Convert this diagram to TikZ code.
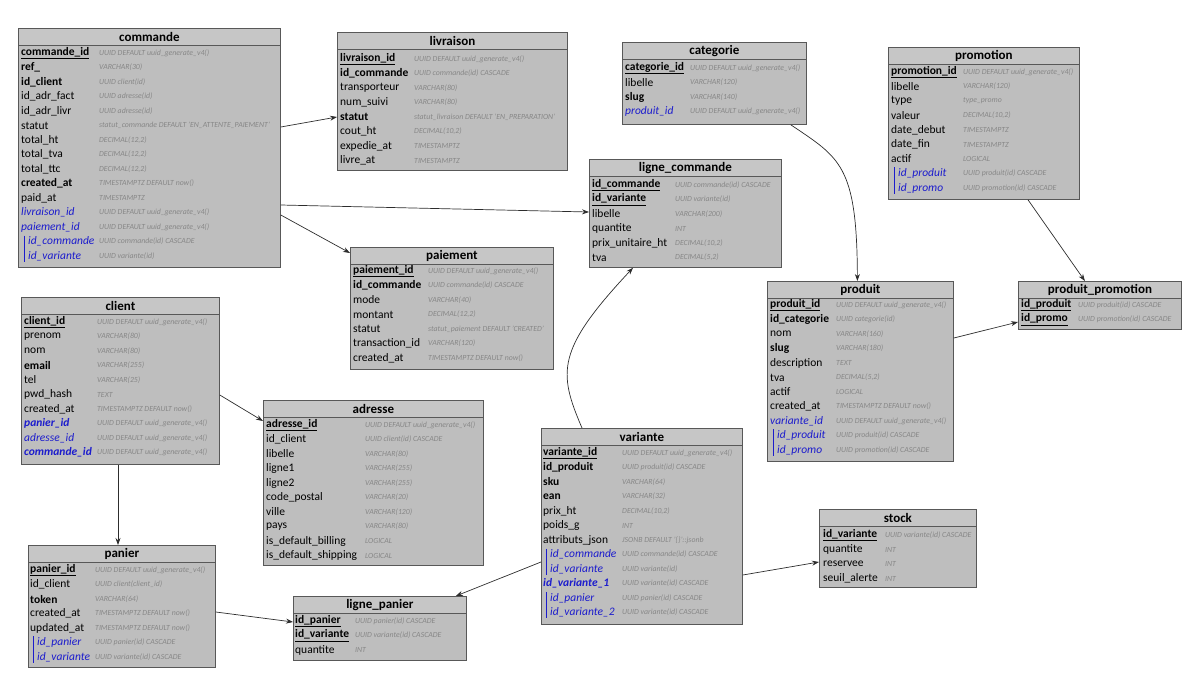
\documentclass[tikz,border=0pt]{standalone}
\usepackage{fontspec}
\setmainfont{Carlito}
\usetikzlibrary{arrows.meta}

\definecolor{tblfill}{RGB}{190,190,190}
\definecolor{tblhead}{RGB}{198,198,198}
\definecolor{tbledge}{RGB}{88,88,88}
\definecolor{fkblue}{RGB}{28,28,205}
\definecolor{typegray}{RGB}{135,135,135}
\definecolor{linkgray}{RGB}{45,45,45}

\tikzset{
  tablebox/.style={draw=tbledge, fill=tblfill, line width=0.8pt, anchor=north west, inner sep=0pt},
  titlebar/.style={draw=tbledge, fill=tblhead, line width=0.8pt, anchor=north west, inner sep=0pt,
                   minimum height=17pt, font=\fontsize{13}{15}\selectfont\bfseries},
  fieldtxt/.style={anchor=west, inner sep=0pt, font=\fontsize{11.5}{13}\selectfont, text=black},
  pkey/.style={fieldtxt, font=\fontsize{11.5}{13}\selectfont\bfseries},
  boldf/.style={fieldtxt, font=\fontsize{11.5}{13}\selectfont\bfseries},
  normf/.style={fieldtxt},
  fkey/.style={fieldtxt, font=\fontsize{11.5}{13}\selectfont\itshape, text=fkblue},
  fkeyb/.style={fieldtxt, font=\fontsize{11.5}{13}\selectfont\bfseries\itshape, text=fkblue},
  compf/.style={fkey, xshift=7pt},
  typetext/.style={anchor=west, inner sep=0pt, font=\fontsize{7.8}{9}\selectfont\itshape, text=typegray},
  compbar/.style={draw=fkblue, line width=1.3pt},
  link/.style={draw=linkgray, line width=0.7pt, -{Stealth[length=7pt,width=5pt]}},
}

% table frame: name, title, left, top, width, height
\newcommand\ertable[6]{%
  \node[tablebox, minimum width=#5pt, minimum height=#6pt] (#1) at (#3,#4) {};
  \node[titlebar, minimum width=#5pt] (#1-head) at (#3,#4) {#2};
  \def\curtbl{#1}%
}
% field row: style, index, field name, type
\newcommand\fld[4]{%
  \node[#1] (\curtbl-f#2) at ({\fx},{\fy+#2*14.5}) {#3};
  \node[typetext] (\curtbl-t#2) at ({\typex},{\fy+#2*14.5}) {#4};
}
\newcommand\pk[1]{\underline{#1}}
% vertical bar grouping a composite key: first row, last row
\newcommand\cbar[2]{%
  \draw[compbar] ([xshift=-3.5pt,yshift=1pt]\curtbl-f#1.north west) -- ([xshift=-3.5pt,yshift=-1pt]\curtbl-f#2.south west);
}

\begin{document}
\begin{tikzpicture}[x=1pt,y=-1pt]
\useasboundingbox (0,0) rectangle (1186,672);

% ---------------- commande
\ertable{commande}{commande}{18}{28}{262}{239}
\def\fx{21}\def\fy{53}\def\typex{99}
\fld{pkey}{0}{\pk{commande\_id}}{UUID DEFAULT uuid\_generate\_v4()}
\fld{boldf}{1}{ref\_}{VARCHAR(30)}
\fld{boldf}{2}{id\_client}{UUID client(id)}
\fld{normf}{3}{id\_adr\_fact}{UUID adresse(id)}
\fld{normf}{4}{id\_adr\_livr}{UUID adresse(id)}
\fld{normf}{5}{statut}{statut\_commande DEFAULT 'EN\_ATTENTE\_PAIEMENT'}
\fld{normf}{6}{total\_ht}{DECIMAL(12,2)}
\fld{normf}{7}{total\_tva}{DECIMAL(12,2)}
\fld{normf}{8}{total\_ttc}{DECIMAL(12,2)}
\fld{boldf}{9}{created\_at}{TIMESTAMPTZ DEFAULT now()}
\fld{normf}{10}{paid\_at}{TIMESTAMPTZ}
\fld{fkey}{11}{livraison\_id}{UUID DEFAULT uuid\_generate\_v4()}
\fld{fkey}{12}{paiement\_id}{UUID DEFAULT uuid\_generate\_v4()}
\fld{compf}{13}{id\_commande}{UUID commande(id) CASCADE}
\fld{compf}{14}{id\_variante}{UUID variante(id)}
\cbar{13}{14}

% ---------------- livraison
\ertable{livraison}{livraison}{337}{32}{230}{138}
\def\fx{340}\def\fy{59}\def\typex{414}
\fld{pkey}{0}{\pk{livraison\_id}}{UUID DEFAULT uuid\_generate\_v4()}
\fld{boldf}{1}{id\_commande}{UUID commande(id) CASCADE}
\fld{normf}{2}{transporteur}{VARCHAR(80)}
\fld{normf}{3}{num\_suivi}{VARCHAR(80)}
\fld{boldf}{4}{statut}{statut\_livraison DEFAULT 'EN\_PREPARATION'}
\fld{normf}{5}{cout\_ht}{DECIMAL(10,2)}
\fld{normf}{6}{expedie\_at}{TIMESTAMPTZ}
\fld{normf}{7}{livre\_at}{TIMESTAMPTZ}

% ---------------- categorie
\ertable{categorie}{categorie}{622}{42}{184}{82}
\def\fx{625}\def\fy{68}\def\typex{690}
\fld{pkey}{0}{\pk{categorie\_id}}{UUID DEFAULT uuid\_generate\_v4()}
\fld{normf}{1}{libelle}{VARCHAR(120)}
\fld{boldf}{2}{slug}{VARCHAR(140)}
\fld{fkey}{3}{produit\_id}{UUID DEFAULT uuid\_generate\_v4()}

% ---------------- ligne_commande
\ertable{lignecommande}{ligne\_commande}{589}{159}{192}{108}
\def\fx{592}\def\fy{185}\def\typex{675}
\fld{pkey}{0}{\pk{id\_commande}}{UUID commande(id) CASCADE}
\fld{pkey}{1}{\pk{id\_variante}}{UUID variante(id)}
\fld{normf}{2}{libelle}{VARCHAR(200)}
\fld{normf}{3}{quantite}{INT}
\fld{normf}{4}{prix\_unitaire\_ht}{DECIMAL(10,2)}
\fld{normf}{5}{tva}{DECIMAL(5,2)}

% ---------------- promotion
\ertable{promotion}{promotion}{888}{47}{191}{152}
\def\fx{891}\def\fy{72}\def\typex{963}
\fld{pkey}{0}{\pk{promotion\_id}}{UUID DEFAULT uuid\_generate\_v4()}
\fld{normf}{1}{libelle}{VARCHAR(120)}
\fld{normf}{2}{type}{type\_promo}
\fld{normf}{3}{valeur}{DECIMAL(10,2)}
\fld{normf}{4}{date\_debut}{TIMESTAMPTZ}
\fld{normf}{5}{date\_fin}{TIMESTAMPTZ}
\fld{normf}{6}{actif}{LOGICAL}
\fld{compf}{7}{id\_produit}{UUID produit(id) CASCADE}
\fld{compf}{8}{id\_promo}{UUID promotion(id) CASCADE}
\cbar{7}{8}

% ---------------- paiement
\ertable{paiement}{paiement}{350}{247}{203}{122}
\def\fx{353}\def\fy{271}\def\typex{428}
\fld{pkey}{0}{\pk{paiement\_id}}{UUID DEFAULT uuid\_generate\_v4()}
\fld{boldf}{1}{id\_commande}{UUID commande(id) CASCADE}
\fld{normf}{2}{mode}{VARCHAR(40)}
\fld{normf}{3}{montant}{DECIMAL(12,2)}
\fld{normf}{4}{statut}{statut\_paiement DEFAULT 'CREATED'}
\fld{normf}{5}{transaction\_id}{VARCHAR(120)}
\fld{normf}{6}{created\_at}{TIMESTAMPTZ DEFAULT now()}

% ---------------- client
\ertable{client}{client}{21}{297}{198}{167}
\def\fx{24}\def\fy{322}\def\typex{97}
\fld{pkey}{0}{\pk{client\_id}}{UUID DEFAULT uuid\_generate\_v4()}
\fld{normf}{1}{prenom}{VARCHAR(80)}
\fld{normf}{2}{nom}{VARCHAR(80)}
\fld{boldf}{3}{email}{VARCHAR(255)}
\fld{normf}{4}{tel}{VARCHAR(25)}
\fld{normf}{5}{pwd\_hash}{TEXT}
\fld{normf}{6}{created\_at}{TIMESTAMPTZ DEFAULT now()}
\fld{fkeyb}{7}{panier\_id}{UUID DEFAULT uuid\_generate\_v4()}
\fld{fkey}{8}{adresse\_id}{UUID DEFAULT uuid\_generate\_v4()}
\fld{fkeyb}{9}{commande\_id}{UUID DEFAULT uuid\_generate\_v4()}

% ---------------- adresse
\ertable{adresse}{adresse}{263}{400}{220}{165}
\def\fx{266}\def\fy{425}\def\typex{365}
\fld{pkey}{0}{\pk{adresse\_id}}{UUID DEFAULT uuid\_generate\_v4()}
\fld{normf}{1}{id\_client}{UUID client(id) CASCADE}
\fld{normf}{2}{libelle}{VARCHAR(80)}
\fld{normf}{3}{ligne1}{VARCHAR(255)}
\fld{normf}{4}{ligne2}{VARCHAR(255)}
\fld{normf}{5}{code\_postal}{VARCHAR(20)}
\fld{normf}{6}{ville}{VARCHAR(120)}
\fld{normf}{7}{pays}{VARCHAR(80)}
\fld{normf}{8}{is\_default\_billing}{LOGICAL}
\fld{normf}{9}{is\_default\_shipping}{LOGICAL}

% ---------------- variante
\ertable{variante}{variante}{541}{428}{201}{196}
\def\fx{543}\def\fy{453}\def\typex{622}
\fld{pkey}{0}{\pk{variante\_id}}{UUID DEFAULT uuid\_generate\_v4()}
\fld{boldf}{1}{id\_produit}{UUID produit(id) CASCADE}
\fld{boldf}{2}{sku}{VARCHAR(64)}
\fld{boldf}{3}{ean}{VARCHAR(32)}
\fld{normf}{4}{prix\_ht}{DECIMAL(10,2)}
\fld{normf}{5}{poids\_g}{INT}
\fld{normf}{6}{attributs\_json}{JSONB DEFAULT '\{\}'::jsonb}
\fld{compf}{7}{id\_commande}{UUID commande(id) CASCADE}
\fld{compf}{8}{id\_variante}{UUID variante(id)}
\fld{fkeyb}{9}{id\_variante\_1}{UUID variante(id) CASCADE}
\fld{compf}{10}{id\_panier}{UUID panier(id) CASCADE}
\fld{compf}{11}{id\_variante\_2}{UUID variante(id) CASCADE}
\cbar{7}{8}
\cbar{10}{11}

% ---------------- produit
\ertable{produit}{produit}{767}{281}{186}{180}
\def\fx{770}\def\fy{305}\def\typex{836}
\fld{pkey}{0}{\pk{produit\_id}}{UUID DEFAULT uuid\_generate\_v4()}
\fld{boldf}{1}{id\_categorie}{UUID categorie(id)}
\fld{normf}{2}{nom}{VARCHAR(160)}
\fld{boldf}{3}{slug}{VARCHAR(180)}
\fld{normf}{4}{description}{TEXT}
\fld{normf}{5}{tva}{DECIMAL(5,2)}
\fld{normf}{6}{actif}{LOGICAL}
\fld{normf}{7}{created\_at}{TIMESTAMPTZ DEFAULT now()}
\fld{fkey}{8}{variante\_id}{UUID DEFAULT uuid\_generate\_v4()}
\fld{compf}{9}{id\_produit}{UUID produit(id) CASCADE}
\fld{compf}{10}{id\_promo}{UUID promotion(id) CASCADE}
\cbar{9}{10}

% ---------------- produit_promotion
\ertable{produitpromo}{produit\_promotion}{1018}{281}{163}{48}
\def\fx{1021}\def\fy{305}\def\typex{1078}
\fld{pkey}{0}{\pk{id\_produit}}{UUID produit(id) CASCADE}
\fld{pkey}{1}{\pk{id\_promo}}{UUID promotion(id) CASCADE}

% ---------------- stock
\ertable{stock}{stock}{819}{509}{157}{78}
\def\fx{823}\def\fy{535}\def\typex{885}
\fld{pkey}{0}{\pk{id\_variante}}{UUID variante(id) CASCADE}
\fld{normf}{1}{quantite}{INT}
\fld{normf}{2}{reservee}{INT}
\fld{normf}{3}{seuil\_alerte}{INT}

% ---------------- panier
\ertable{panier}{panier}{28}{545}{187}{122}
\def\fx{30}\def\fy{570}\def\typex{95}
\fld{pkey}{0}{\pk{panier\_id}}{UUID DEFAULT uuid\_generate\_v4()}
\fld{normf}{1}{id\_client}{UUID client(client\_id)}
\fld{boldf}{2}{token}{VARCHAR(64)}
\fld{normf}{3}{created\_at}{TIMESTAMPTZ DEFAULT now()}
\fld{normf}{4}{updated\_at}{TIMESTAMPTZ DEFAULT now()}
\fld{compf}{5}{id\_panier}{UUID panier(id) CASCADE}
\fld{compf}{6}{id\_variante}{UUID variante(id) CASCADE}
\cbar{5}{6}

% ---------------- ligne_panier
\ertable{lignepanier}{ligne\_panier}{293}{596}{173}{64}
\def\fx{295}\def\fy{621}\def\typex{355}
\fld{pkey}{0}{\pk{id\_panier}}{UUID panier(id) CASCADE}
\fld{pkey}{1}{\pk{id\_variante}}{UUID variante(id) CASCADE}
\fld{normf}{2}{quantite}{INT}

% ---------------- relations
\draw[link] ([yshift=-99pt]commande.north east) -- ([yshift=-85pt]livraison.north west);
\draw[link] ([yshift=-177pt]commande.north east) -- ([yshift=-53pt]lignecommande.north west);
\draw[link] ([yshift=-187pt]commande.north east) -- ([yshift=-6pt]paiement.north west);
\draw[link] ([xshift=-16pt]categorie.south east) .. controls (840,158) and (857,165) .. ([xshift=-3pt]produit.north);
\draw[link] ([xshift=140pt]promotion.south west) -- ([xshift=-15pt]produitpromo.north);
\draw[link] ([yshift=-57pt]produit.north east) -- ([yshift=-41pt]produitpromo.north west);
\draw[link] ([xshift=41pt]variante.north west) .. controls (558,372) and (556,350) .. ([xshift=44pt]lignecommande.south west);
\draw[link] ([yshift=-98pt]client.north east) -- ([yshift=-21pt]adresse.north west);
\draw[link] ([xshift=97pt]client.south west) -- ([xshift=90pt]panier.north west);
\draw[link] ([yshift=-67pt]panier.north east) -- ([yshift=-26pt]lignepanier.north west);
\draw[link] ([yshift=-134pt]variante.north west) -- ([xshift=-11pt]lignepanier.north east);
\draw[link] ([yshift=-147pt]variante.north east) -- ([yshift=-53pt]stock.north west);
\end{tikzpicture}
\end{document}
